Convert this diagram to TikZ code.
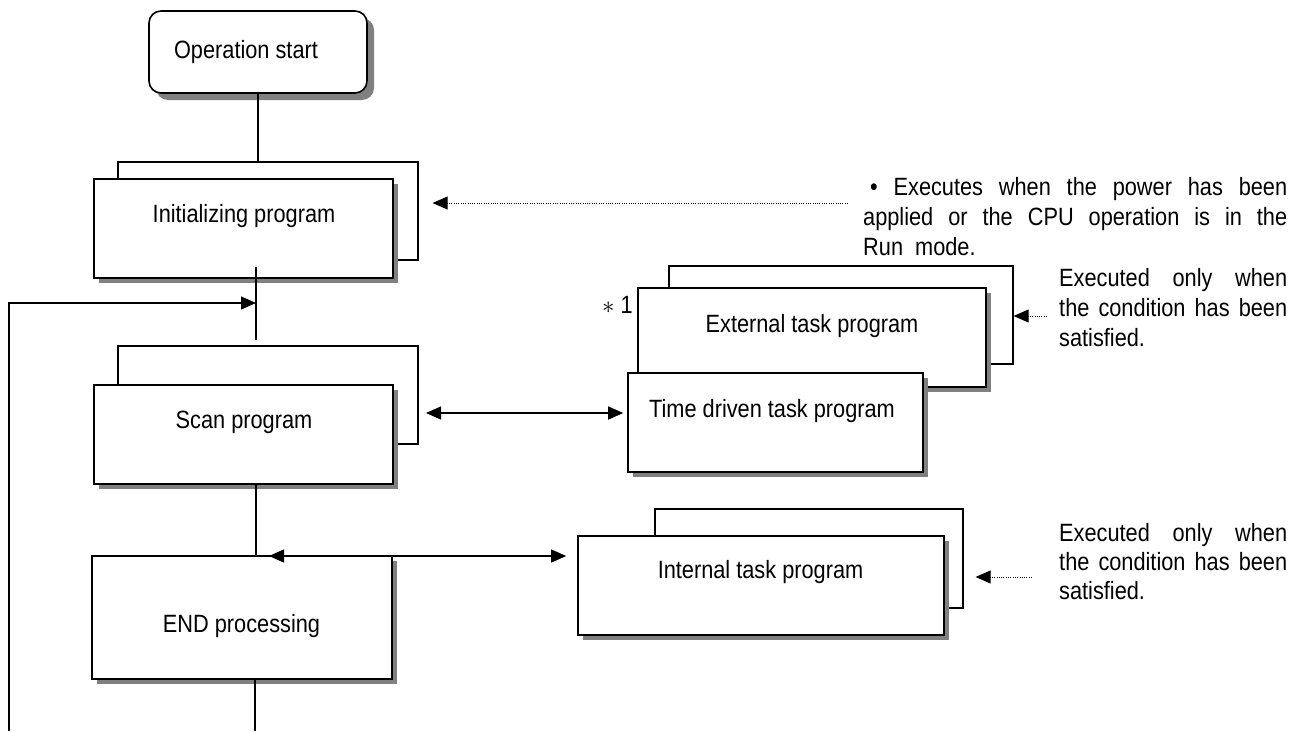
\documentclass[tikz,border=0pt]{standalone}
\usepackage{fontspec}
\setmainfont{Liberation Sans}[FakeStretch=0.87]
\usetikzlibrary{arrows.meta,shadows}
\begin{document}
\begin{tikzpicture}[x=1pt,y=-1pt,
  font=\fontsize{25}{30}\selectfont,
  front/.style={draw, line width=1.6pt, fill=white, inner sep=0pt,
    drop shadow={shadow xshift=5pt, shadow yshift=-5pt, opacity=1, fill=black!50}},
  backbox/.style={draw, line width=1.2pt, fill=white, inner sep=0pt},
  lbl/.style={inner sep=0pt, anchor=base},
  note/.style={inner sep=0pt, anchor=base west},
  conn/.style={line width=1.2pt},
  tipr/.style={-{Triangle[length=15pt,width=13pt]}},
  dbl/.style={{Triangle[length=15pt,width=13pt]}-{Triangle[length=15pt,width=13pt]}},
  dotarr/.style={line width=0.9pt, dash pattern=on 1pt off 1.3pt, -{Triangle[length=15pt,width=13pt]}}
]
\useasboundingbox (0,0) rectangle (1306,731);

% start
\node[draw, line width=1.6pt, fill=white, rounded corners=12pt, minimum width=218pt, minimum height=82pt,
  drop shadow={shadow xshift=7pt, shadow yshift=-7pt, opacity=1, fill=black!50}] (start) at (258,52) {};
\node[lbl] (start-t) at (246,58) {Operation start};

% initializing
\node[backbox, minimum width=300pt, minimum height=98pt] (initback) at (268,211) {};
\node[front, minimum width=299pt, minimum height=99pt] (init) at (243.5,228.5) {};
\node[lbl] (init-t) at (244,222) {Initializing program};

% scan
\node[backbox, minimum width=300pt, minimum height=98pt] (scanback) at (268,395) {};
\node[front, minimum width=299pt, minimum height=99pt] (scan) at (243.5,434.5) {};
\node[lbl] (scan-t) at (244,428) {Scan program};

% END
\node[front, minimum width=300pt, minimum height=123pt] (endp) at (242,617.5) {};
\node[lbl] (endp-t) at (241.5,632) {END processing};

% external
\node[backbox, minimum width=344pt, minimum height=98pt] (extback) at (841,315) {};
\node[front, minimum width=348pt, minimum height=99pt] (ext) at (812,337.5) {};
\node[lbl] (ext-t) at (812,332) {External task program};
\node[inner sep=0pt, anchor=base east] (star) at (633,313) {$\ast$ 1};

% time driven
\node[front, minimum width=295pt, minimum height=99pt] (timed) at (775.5,422.5) {};
\node[lbl] (timed-t) at (772,417) {Time driven task program};

% internal
\node[backbox, minimum width=308pt, minimum height=99pt] (intback) at (809,558.5) {};
\node[front, minimum width=366pt, minimum height=99pt] (int) at (761,585.5) {};
\node[lbl] (int-t) at (760.5,578) {Internal task program};

% notes
\node[note] (n1a) at (870,195) {\makebox[417pt][s]{\textbullet\ Executes when the power has been}};
\node[note] (n1b) at (863,225) {\makebox[424pt][s]{applied or the CPU operation is in the}};
\node[note] (n1c) at (863,255) {Run\ \ mode.};

\node[note] (n2a) at (1059,286) {\makebox[228pt][s]{Executed only when}};
\node[note] (n2b) at (1059,316) {\makebox[228pt][s]{the condition has been}};
\node[note] (n2c) at (1059,346) {satisfied.};

\node[note] (n3a) at (1059,541) {\makebox[228pt][s]{Executed only when}};
\node[note] (n3b) at (1059,570) {\makebox[228pt][s]{the condition has been}};
\node[note] (n3c) at (1059,599) {satisfied.};

% connectors
\coordinate (initout) at (256,267);
\coordinate (scanin) at (256,340);
\coordinate (loopjoin) at (256,303);
\coordinate (loopbot) at (9,731);
\coordinate (endout) at (255,731);
\coordinate (ei) at (269,556);
\coordinate (st) at (426,413);
\coordinate (note1) at (848,203);
\coordinate (note2) at (1047,316);
\coordinate (note3) at (1032,577);

\draw[conn] (start.south) -- (start.south |- initback.north);
\draw[conn] (initout) -- (scanin);
\draw[conn, tipr] (loopbot) |- (loopjoin);
\draw[conn] (scan.south -| loopjoin) -- (endp.north -| loopjoin);
\draw[conn] (endp.south -| endout) -- (endout);
\draw[conn, dbl, shorten >=11pt] (ei) -- (int.west |- ei);
\draw[conn, dbl, shorten >=4pt] (st) -- (timed.west |- st);
\draw[dotarr, shorten >=14pt] (note1) -- (initback.east |- note1);
\draw[dotarr] (note2) -- (extback.east |- note2);
\draw[dotarr, shorten >=12pt] (note3) -- (intback.east |- note3);
\end{tikzpicture}
\end{document}
